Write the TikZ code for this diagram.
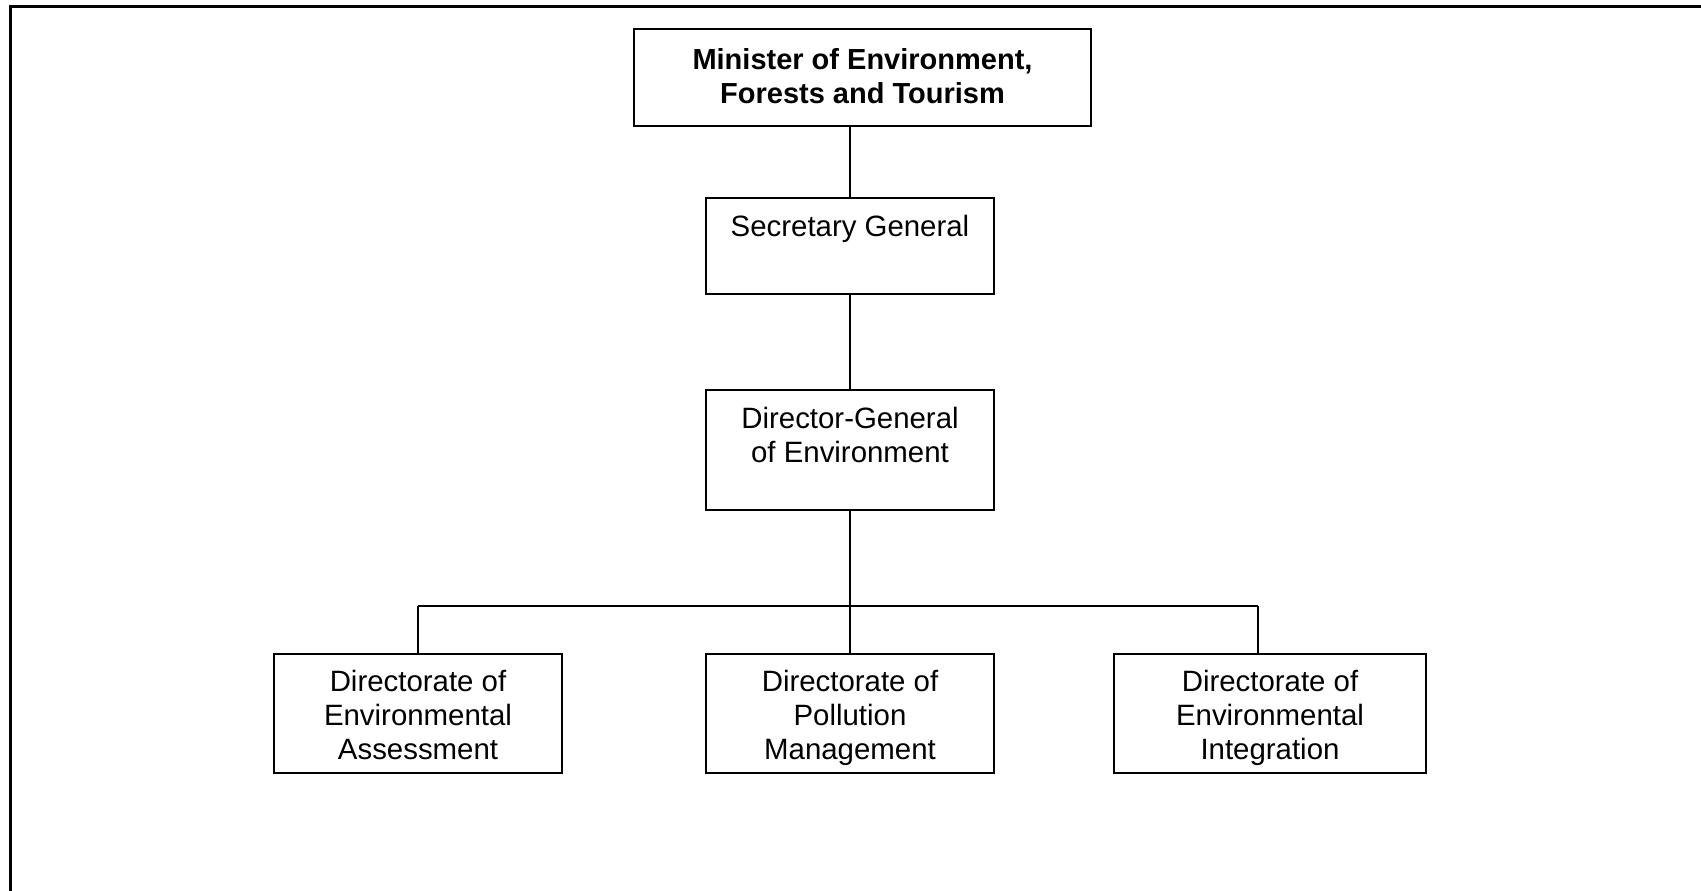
\documentclass[tikz,border=0pt]{standalone}
\usepackage{fontspec}
\setmainfont{Liberation Sans}
\begin{document}
\begin{tikzpicture}[x=0.5pt,y=-0.5pt,
  box/.style={draw, line width=1pt, inner sep=0pt, rectangle},
  conn/.style={line width=0.9pt},
  frame/.style={line width=1.5pt},
  lbl/.style={inner sep=0pt, anchor=base},
]
\useasboundingbox (0,0) rectangle (1701,890);
% outer frame (only top and left edges visible)
\draw[frame] (10,892) -- (10,6) -- (1703,6);

% boxes
\node[box, minimum width=228.5pt, minimum height=48.5pt] (min) at (862.5,77.5) {};
\node[box, minimum width=144pt, minimum height=48pt] (sec) at (850,246) {};
\node[box, minimum width=144pt, minimum height=60pt] (dg) at (850,450) {};
\node[box, minimum width=144pt, minimum height=59.5pt] (la) at (418,713.5) {};
\node[box, minimum width=144pt, minimum height=59.5pt] (pm) at (850,713.5) {};
\node[box, minimum width=156pt, minimum height=59.5pt] (ei) at (1270,713.5) {};

% texts
\node[lbl] (tmin) at ([yshift=-20.5pt]min.north) {\begin{minipage}[t]{225pt}\centering\fontsize{14.5}{17}\selectfont\bfseries Minister of Environment,\\Forests and Tourism\end{minipage}};
\node[lbl] (tsec) at ([yshift=-19.75pt]sec.north) {\begin{minipage}[t]{140pt}\centering\fontsize{14.7}{17}\selectfont Secretary General\end{minipage}};
\node[lbl] (tdg) at ([yshift=-19.75pt]dg.north) {\begin{minipage}[t]{140pt}\centering\fontsize{14.7}{17}\selectfont Director-General\\of Environment\end{minipage}};
\begin{scope}
\clip (la.north west) rectangle ([yshift=4.5pt]la.south east);
\node[lbl] (tla) at ([yshift=-19.25pt]la.north) {\begin{minipage}[t]{140pt}\centering\fontsize{14.7}{17}\selectfont Directorate of\\Environmental\\Assessment\end{minipage}};
\end{scope}
\begin{scope}
\clip (pm.north west) rectangle ([yshift=4.5pt]pm.south east);
\node[lbl] (tpm) at ([yshift=-19.25pt]pm.north) {\begin{minipage}[t]{140pt}\centering\fontsize{14.7}{17}\selectfont Directorate of\\Pollution\\Management\end{minipage}};
\end{scope}
\begin{scope}
\clip (ei.north west) rectangle ([yshift=4.5pt]ei.south east);
\node[lbl] (tei) at ([yshift=-19.25pt]ei.north) {\begin{minipage}[t]{150pt}\centering\fontsize{14.7}{17}\selectfont Directorate of\\Environmental\\Integration\end{minipage}};
\end{scope}

% connectors
\coordinate (barL) at (418,606);
\coordinate (barM) at (850,606);
\coordinate (barR) at (1258,606);
\draw[conn] (sec.north) -- (sec.north |- min.south);
\draw[conn] (sec.south) -- (dg.north);
\draw[conn] (dg.south) -- (barM);
\draw[conn] (barL) -- (barR);
\draw[conn] (barL) -- (la.north);
\draw[conn] (barM) -- (pm.north);
\draw[conn] (barR) -- (barR |- ei.north);
\end{tikzpicture}
\end{document}
